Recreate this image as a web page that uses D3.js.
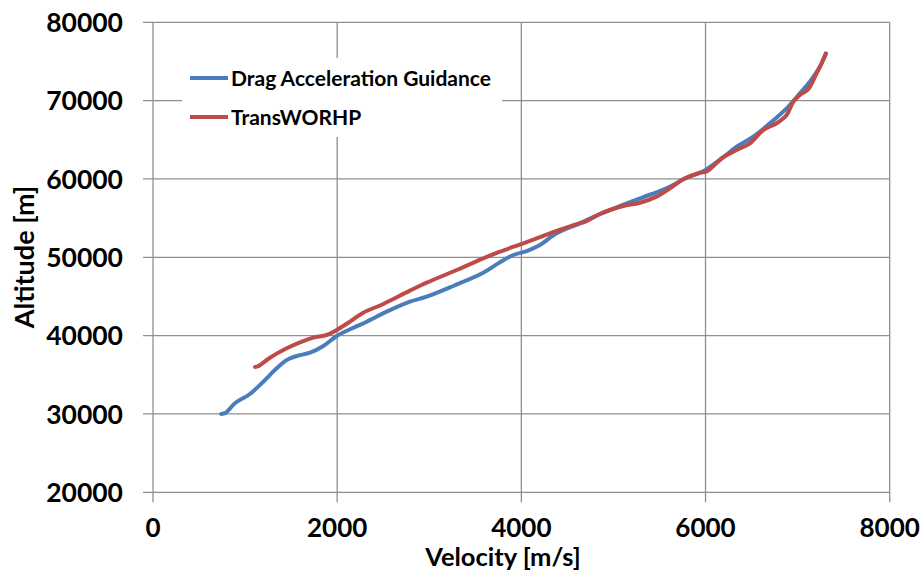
<!DOCTYPE html>
<html>
<head>
<meta charset="utf-8">
<script src="https://cdn.jsdelivr.net/npm/d3@7"></script>
<style>
  html, body { margin: 0; padding: 0; background: #fff; }
  svg text { font-family: "Lato", "Open Sans", sans-serif; font-weight: bold; fill: #000; }
</style>
</head>
<body>
<svg id="chart" width="924" height="573"></svg>
<script>
// ---- data ----
const xTicks = [0, 2000, 4000, 6000, 8000];
const yTicks = [20000, 30000, 40000, 50000, 60000, 70000, 80000];

const dragVel = [740, 790, 890, 1053, 1198, 1343, 1452, 1560, 1705, 1850, 1995, 2139, 2320, 2538, 2790, 2972, 3261, 3586, 3768, 3912, 4058, 4202, 4383, 4636, 4853, 5103, 5320, 5537, 5686, 5758, 5939, 6012, 6192, 6338, 6518, 6699, 6881, 7025, 7133, 7242, 7307];
const dragAlt = [30000, 30150, 31360, 32550, 34120, 35830, 36890, 37400, 37820, 38680, 39950, 40810, 41780, 43060, 44330, 44970, 46340, 48030, 49360, 50290, 50800, 51570, 53060, 54340, 55530, 56680, 57660, 58600, 59450, 59960, 60800, 61250, 62770, 64120, 65400, 67110, 69020, 70940, 72420, 74330, 75950];

const trVel = [1108, 1143, 1270, 1452, 1596, 1741, 1886, 1995, 2139, 2283, 2501, 2790, 2972, 3298, 3586, 3768, 4021, 4311, 4564, 4709, 4853, 4962, 5107, 5288, 5469, 5614, 5758, 5939, 6012, 6192, 6338, 6483, 6627, 6772, 6881, 6953, 7025, 7115, 7206, 7261, 7307];
const trAlt = [36000, 36100, 37180, 38380, 39150, 39740, 40080, 40720, 41780, 42930, 44040, 45740, 46760, 48380, 49870, 50720, 51790, 53060, 54120, 54630, 55530, 56040, 56550, 56970, 57740, 58810, 59960, 60800, 60950, 62770, 63700, 64550, 66250, 67110, 68170, 69860, 70720, 71450, 73490, 74770, 76040];

const seriesNames = ["Drag Acceleration Guidance", "TransWORHP"];
const seriesColors = ["#4A7EBB", "#BE4B48"];

// ---- layout ----
const svg = d3.select("#chart");
const L = 153, R = 889.7, T = 22.3, B = 492.3;
const x = d3.scaleLinear().domain([0, 8000]).range([L, R]);
const y = d3.scaleLinear().domain([20000, 80000]).range([B, T]);
const grid = "#8f8f8f";

// horizontal gridlines (with outside tick)
svg.append("g").selectAll("line").data(yTicks).join("line")
  .attr("x1", L - 10).attr("x2", R)
  .attr("y1", d => y(d)).attr("y2", d => y(d))
  .attr("stroke", grid).attr("stroke-width", 1.3);
// vertical gridlines
svg.append("g").selectAll("line").data(xTicks).join("line")
  .attr("x1", d => x(d)).attr("x2", d => x(d))
  .attr("y1", T).attr("y2", B + 10)
  .attr("stroke", grid).attr("stroke-width", 1.3);

// tick labels
svg.append("g").selectAll("text").data(yTicks).join("text")
  .attr("x", 123).attr("y", d => y(d)).attr("dy", "0.36em")
  .attr("text-anchor", "end").attr("font-size", 26.5)
  .text(d => d);
svg.append("g").selectAll("text").data(xTicks).join("text")
  .attr("x", d => x(d)).attr("y", 537)
  .attr("text-anchor", "middle").attr("font-size", 26)
  .text(d => d);

// axis titles
svg.append("text").attr("x", 503).attr("y", 566)
  .attr("text-anchor", "middle").attr("font-size", 25.5)
  .text("Velocity [m/s]");
svg.append("text").attr("transform", "translate(34,257) rotate(-90)")
  .attr("text-anchor", "middle").attr("font-size", 27)
  .text("Altitude [m]");

// lines
const line = d3.line().x(d => x(d[0])).y(d => y(d[1])).curve(d3.curveCatmullRom.alpha(0.5));
const dragData = d3.zip(dragVel, dragAlt);
const trData = d3.zip(trVel, trAlt);
[dragData, trData].forEach((data, i) => {
  svg.append("path").datum(data)
    .attr("d", line)
    .attr("fill", "none")
    .attr("stroke", seriesColors[i])
    .attr("stroke-width", 4)
    .attr("stroke-linecap", "round")
    .attr("stroke-linejoin", "round");
});

// legend
const lg = svg.append("g");
lg.append("rect").attr("x", 182).attr("y", 58).attr("width", 320).attr("height", 79).attr("fill", "#fff");
seriesNames.forEach((name, i) => {
  const yy = 78 + i * 39;
  lg.append("line").attr("x1", 190).attr("x2", 228).attr("y1", yy).attr("y2", yy)
    .attr("stroke", seriesColors[i]).attr("stroke-width", 4);
  lg.append("text").attr("x", 231).attr("y", yy).attr("dy", "0.36em")
    .attr("font-size", 21).text(name);
});
</script>
</body>
</html>
